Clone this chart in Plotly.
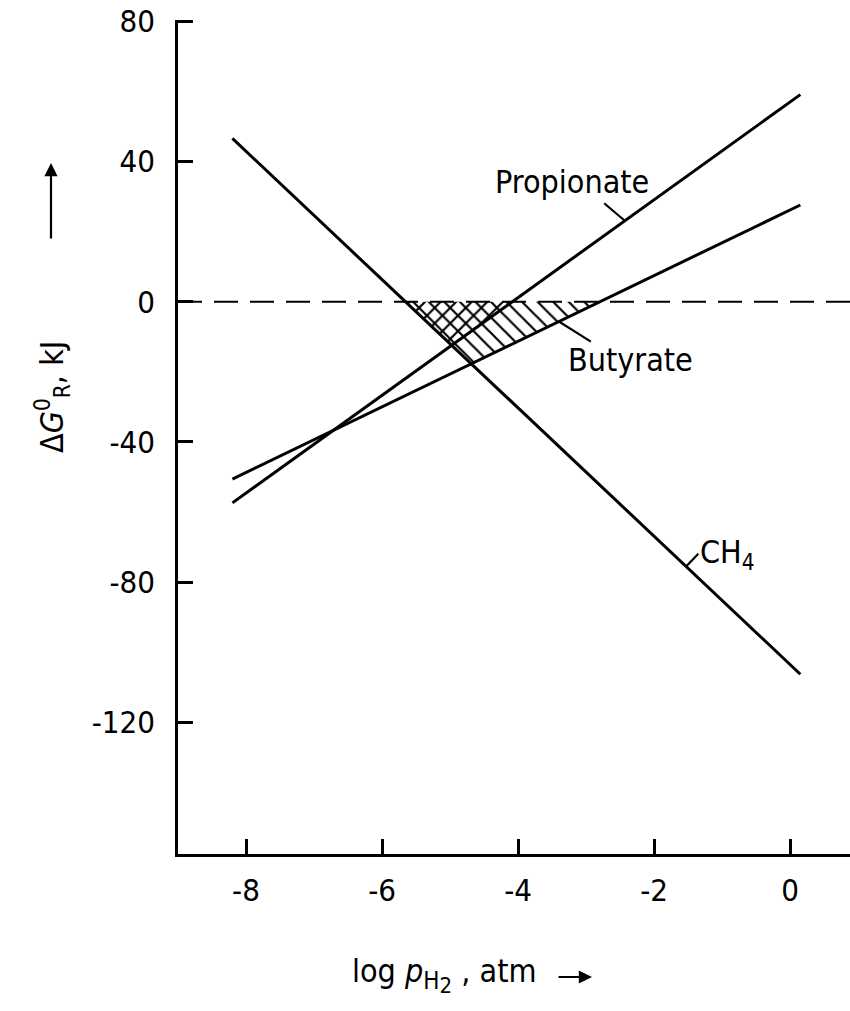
import numpy as np
import plotly.graph_objects as go

# ---- data ----
x_ends = [-8.2, 0.15]              # log p_H2, atm (line start / end)
ch4 = [46.6, -106.3]               # ΔG, kJ
propionate = [-57.4, 59.1]
butyrate = [-50.6, 27.6]

x_tick_vals = [-8, -6, -4, -2, 0]
x_tick_labels = ["-8", "-6", "-4", "-2", "0"]
y_tick_vals = [-120, -80, -40, 0, 40, 80]
y_tick_labels = ["-120", "-80", "-40", "0", "40", "80"]

FONT = "Liberation Sans Narrow, DejaVu Sans Condensed, Arial Narrow, sans-serif"


def line_fn(vals):
    x0, x1 = x_ends
    s = (vals[1] - vals[0]) / (x1 - x0)
    return s, vals[0] - s * x0  # slope, intercept


def zero_x(vals):
    s, b = line_fn(vals)
    return -b / s


def cross(a, b):
    sa, ba = line_fn(a)
    sb, bb = line_fn(b)
    x = (bb - ba) / (sa - sb)
    return x, sa * x + ba


def at(vals, x):
    s, b = line_fn(vals)
    return s * x + b


fig = go.Figure()

# hatched triangles (where both reactions are exergonic)
xc, yc = cross(ch4, butyrate)
fig.add_trace(go.Scatter(
    x=[zero_x(ch4), zero_x(butyrate), xc, zero_x(ch4)],
    y=[0, 0, yc, 0],
    mode="lines", fill="toself", line=dict(width=0, color="rgba(0,0,0,0)"),
    fillcolor="rgba(0,0,0,0)",
    fillpattern=dict(shape="\\", size=11, solidity=0.2, fgcolor="black",
                     bgcolor="rgba(0,0,0,0)", fgopacity=1),
    hoverinfo="skip", showlegend=False))
xp, yp = cross(ch4, propionate)
fig.add_trace(go.Scatter(
    x=[zero_x(ch4), zero_x(propionate), xp, zero_x(ch4)],
    y=[0, 0, yp, 0],
    mode="lines", fill="toself", line=dict(width=0, color="rgba(0,0,0,0)"),
    fillcolor="rgba(0,0,0,0)",
    fillpattern=dict(shape="/", size=11, solidity=0.2, fgcolor="black",
                     bgcolor="rgba(0,0,0,0)", fgopacity=1),
    hoverinfo="skip", showlegend=False))

# zero line
fig.add_hline(y=0, line=dict(color="black", width=2.2, dash="24px,12px"))

for vals in (ch4, propionate, butyrate):
    fig.add_trace(go.Scatter(x=x_ends, y=vals, mode="lines",
                             line=dict(color="black", width=3),
                             hoverinfo="skip", showlegend=False))

# leader lines
leaders = [
    (propionate, -2.43, -2.735, 28.1),
    (butyrate, -3.40, -2.93, -11.4),
    (ch4, -1.53, -1.35, -71.9),
]
for vals, xin, xo, yo in leaders:
    fig.add_shape(type="line", xref="x", yref="y", x0=xin, y0=at(vals, xin),
                  x1=xo, y1=yo, line=dict(color="black", width=2.2))

# curve labels
lab_font = dict(family=FONT, size=32, color="black")
fig.add_annotation(x=-4.37, y=34.1, text="Propionate", showarrow=False,
                   xanchor="left", yanchor="middle", font=lab_font)
fig.add_annotation(x=-3.29, y=-16.5, text="Butyrate", showarrow=False,
                   xanchor="left", yanchor="middle", font=lab_font)
fig.add_annotation(x=-1.36, y=-72.0, text="CH<sub>4</sub>", showarrow=False,
                   xanchor="left", yanchor="middle", font=lab_font)

# axis titles (paper coordinates; plot area 178..850 x 20..854 px)
title_font = dict(family=FONT, size=32, color="black")
fig.add_annotation(xref="paper", yref="paper", x=-0.1875, y=0.548,
                   text="Δ<i>G</i><sup>0</sup><sub>R</sub>, kJ",
                   showarrow=False, textangle=-90, xanchor="center", yanchor="middle",
                   font=title_font)
fig.add_annotation(xref="paper", yref="paper", x=-0.189, y=0.8285,
                   axref="pixel", ayref="pixel", ax=0, ay=77,
                   text="", showarrow=True, arrowhead=2,
                   arrowsize=1.2, arrowwidth=2.2, arrowcolor="black")
fig.add_annotation(xref="paper", yref="paper", x=0.3973, y=-0.1451,
                   text="log <i>p</i><sub><span style='font-size:24px'>H</span>"
                        "<sub><span style='font-size:22px'>2</span></sub></sub> , atm",
                   showarrow=False, xanchor="center", yanchor="middle",
                   font=title_font)
fig.add_annotation(xref="paper", yref="paper", x=0.6161, y=-0.1475,
                   axref="pixel", ayref="pixel", ax=-35, ay=0,
                   text="", showarrow=True, arrowhead=2,
                   arrowsize=1.2, arrowwidth=2.2, arrowcolor="black")

axis_common = dict(showgrid=False, zeroline=False, showline=True, linecolor="black",
                   linewidth=2.5, ticks="inside", ticklen=15, tickwidth=2.5,
                   tickcolor="black", automargin=False, ticklabeloverflow="allow",
                   tickfont=dict(family=FONT, size=31, color="black"))
fig.update_xaxes(range=[-9.0, 0.88], tickvals=x_tick_vals, ticktext=x_tick_labels,
                 ticklabelstandoff=7, **axis_common)
fig.update_yaxes(range=[-157.6, 80.4], tickvals=y_tick_vals, ticktext=y_tick_labels,
                 ticklabelstandoff=14, **axis_common)

fig.update_layout(width=850, height=1011, margin=dict(l=178, r=0, t=20, b=157),
                  plot_bgcolor="white", paper_bgcolor="white", showlegend=False)

fig.write_html("out.html", config={"displayModeBar": False},
               post_script="document.body.style.margin='0px';"
                           "document.documentElement.style.overflow='hidden';"
                           "document.body.style.overflow='hidden';")
